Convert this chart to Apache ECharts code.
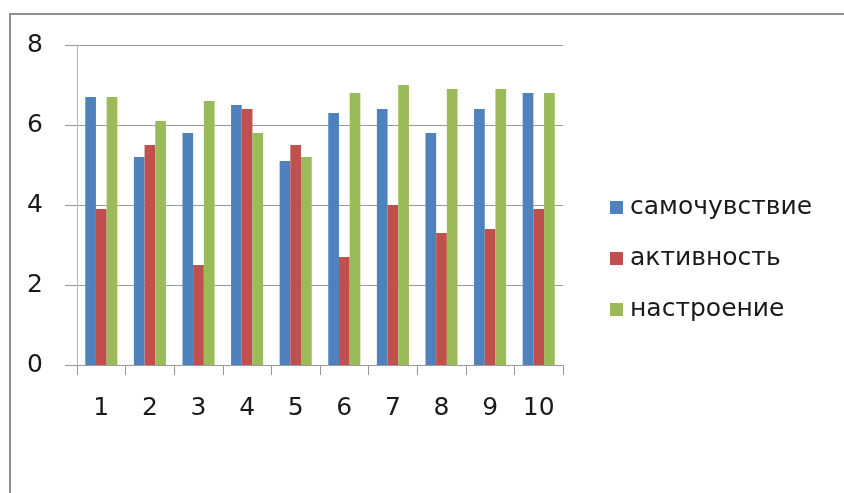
<!DOCTYPE html>
<html>
<head>
<meta charset="utf-8">
<script src="https://cdn.jsdelivr.net/npm/echarts@6/dist/echarts.min.js"></script>
<style>
  html, body { margin: 0; padding: 0; background: #fff; }
  #chart { width: 844px; height: 493px; }
</style>
</head>
<body>
<div id="chart"></div>
<script>
// Day numbers along the x axis
const categories = ['1', '2', '3', '4', '5', '6', '7', '8', '9', '10'];

// Scores per day for each scale
const wellBeing = [6.7, 5.2, 5.8, 6.5, 5.1, 6.3, 6.4, 5.8, 6.4, 6.8];
const activity  = [3.9, 5.5, 2.5, 6.4, 5.5, 2.7, 4.0, 3.3, 3.4, 3.9];
const mood      = [6.7, 6.1, 6.6, 5.8, 5.2, 6.8, 7.0, 6.9, 6.9, 6.8];

const seriesNames = ['самочувствие', 'активность', 'настроение'];
const seriesColors = ['#4F81BD', '#C0504D', '#9BBB59'];
const seriesData = [wellBeing, activity, mood];

const fontFamily = '"DejaVu Sans", "Open Sans", sans-serif';
const textColor = '#1a1a1a';

const chart = echarts.init(document.getElementById('chart'));

chart.setOption({
  animation: false,
  backgroundColor: '#ffffff',
  graphic: [{
    type: 'rect',
    shape: { x: 10, y: 14, width: 900, height: 600 },
    style: { fill: 'none', stroke: '#8f8f8f', lineWidth: 2 },
    silent: true
  }],
  grid: { left: 77, right: 281, top: 45, bottom: 128 },
  legend: {
    orient: 'vertical',
    left: 605,
    top: 190,
    itemWidth: 13,
    itemHeight: 13,
    itemGap: 26,
    icon: 'rect',
    textStyle: { fontFamily, fontSize: 25, color: textColor, padding: [0, 0, 0, 2] },
    data: seriesNames
  },
  xAxis: {
    type: 'category',
    data: categories,
    axisLine: { lineStyle: { color: '#9a9a9a', width: 1 } },
    axisTick: { show: true, length: 10, lineStyle: { color: '#9a9a9a' } },
    axisLabel: { fontFamily, fontSize: 25, color: textColor, margin: 31 }
  },
  yAxis: {
    type: 'value',
    min: 0,
    max: 8,
    interval: 2,
    axisLine: { show: true, lineStyle: { color: '#b5b5b5', width: 1 } },
    axisTick: { show: true, length: 12, lineStyle: { color: '#9a9a9a' } },
    splitLine: { lineStyle: { color: '#9a9a9a', width: 1 } },
    axisLabel: { fontFamily, fontSize: 25, color: textColor, margin: 34, padding: [4, 0, 0, 0] }
  },
  series: seriesNames.map((name, i) => ({
    name,
    type: 'bar',
    data: seriesData[i],
    barGap: '0%',
    barCategoryGap: '34%',
    itemStyle: { color: seriesColors[i] }
  }))
});
</script>
</body>
</html>
